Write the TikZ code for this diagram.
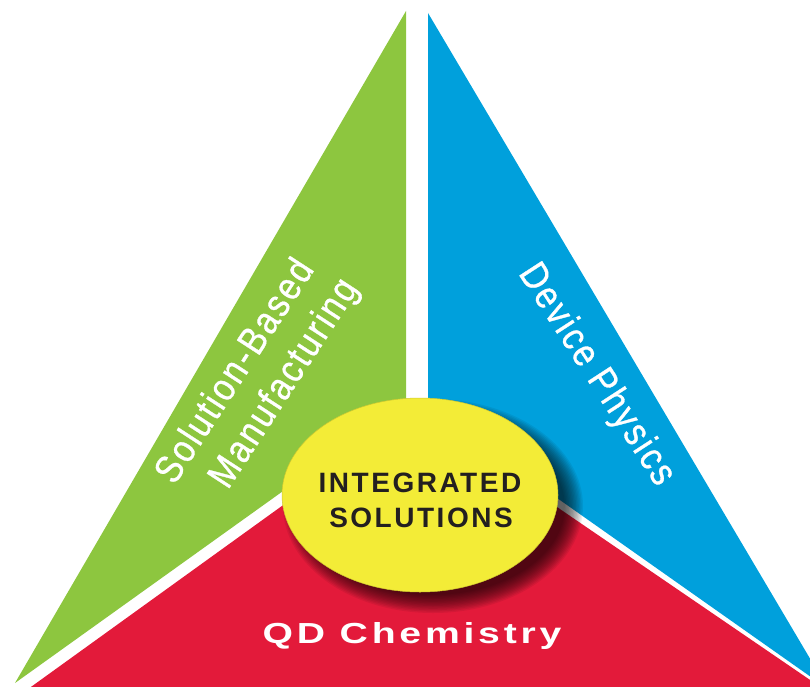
\documentclass[tikz,border=0pt]{standalone}
\usepackage{fontspec}
\setmainfont{Liberation Sans}
\newfontfamily\spacedfont[LetterSpace=9]{Liberation Sans}
\newfontfamily\widefont[LetterSpace=13,FakeStretch=1.35]{Liberation Sans}
\newfontfamily\narrowfont[LetterSpace=6,FakeStretch=0.86,FakeBold=0.8]{Liberation Sans}
\definecolor{segGreen}{RGB}{141,198,63}
\definecolor{segBlue}{RGB}{0,160,220}
\definecolor{segRed}{RGB}{227,26,58}
\definecolor{hubYellow}{RGB}{243,236,55}
\definecolor{inkDark}{RGB}{35,31,32}
\tikzset{
  segtext/.style={text=white, inner sep=0pt, font=\narrowfont\fontsize{39}{42}\selectfont},
  hubtext/.style={text=inkDark, inner sep=0pt, anchor=base, font=\spacedfont\bfseries\fontsize{28}{32}\selectfont},
  hub/.style={ellipse, fill=hubYellow, draw=hubYellow!85!black, line width=0.5pt,
              minimum width=276pt, minimum height=194pt, inner sep=0pt}
}
\usetikzlibrary{shapes.geometric}
\begin{document}
\begin{tikzpicture}[x=1pt,y=-1pt]
  \useasboundingbox (0,0) rectangle (810,687);
  \begin{scope}
    \clip (0,0) rectangle (810,687);
    % three segments of the split triangle
    \fill[segGreen] (406,11) -- (406,403) -- (15,683) -- cycle;
    \fill[segBlue]  (428,13) -- (428,407) -- (828,689) -- cycle;
    \fill[segRed]   (415,410) -- (835,697) -- (17,697) -- cycle;
    % soft drop shadow below the hub
    \foreach \i in {0,...,13}{
      \fill[black, opacity=0.065] (433,506) ellipse ({150-1.4*\i pt} and {107-1.4*\i pt});
    }
  \end{scope}
  \node[hub] (hub) at (420,495) {};
  \node[hubtext] (integrated) at (420,492) {INTEGRATED};
  \node[hubtext] (solutions) at (421,527) {SOLUTIONS};
  % segment labels
  \node[segtext, rotate=57] (sbm1) at (233,370) {Solution-Based};
  \node[segtext, rotate=57] (sbm2) at (285,384) {Manufacturing};
  \node[segtext, rotate=-57] (dev) at (596,375) {Device Physics};
  \node[text=white, inner sep=0pt, anchor=base, font=\widefont\bfseries\fontsize{29}{32}\selectfont] (qd) at (412,643) {QD Chemistry};
\end{tikzpicture}
\end{document}
